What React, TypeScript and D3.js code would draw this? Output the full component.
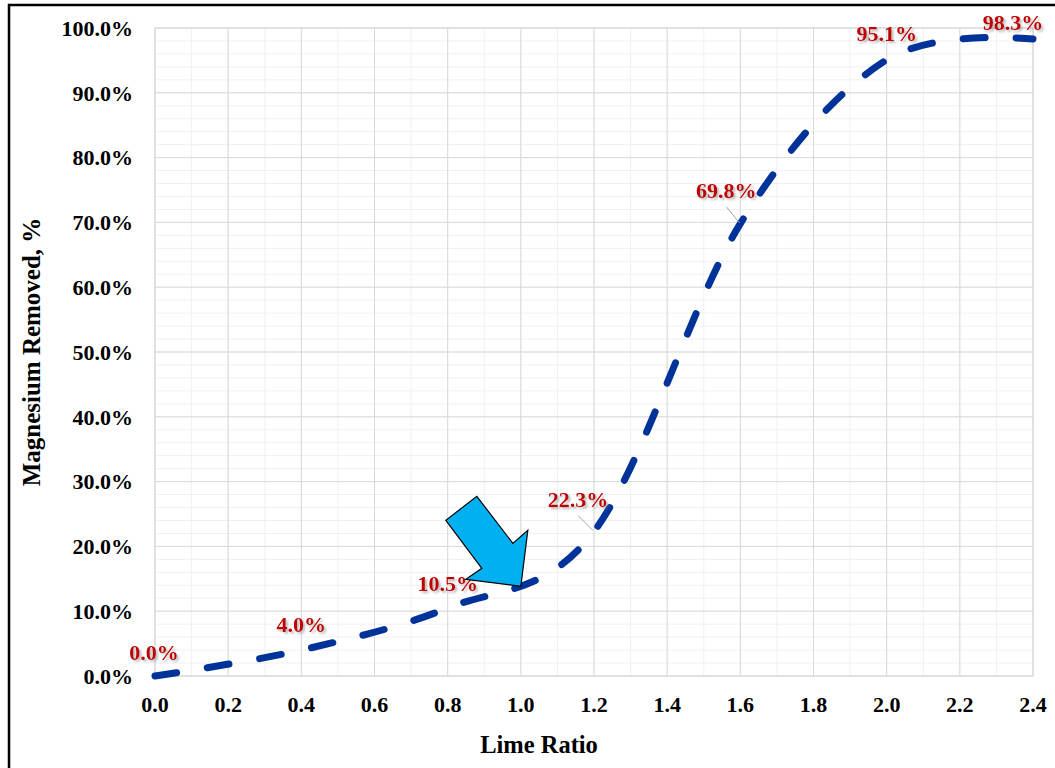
import React from "react";
import * as d3 from "d3";

// Lime ratio vs. magnesium removal
const limeRatio = [0.0, 0.4, 0.8, 1.2, 1.6, 2.0, 2.4];
const mgRemoved = [0.0, 4.0, 10.5, 22.3, 69.8, 95.1, 98.3];
const xTicks = [0, 0.2, 0.4, 0.6, 0.8, 1.0, 1.2, 1.4, 1.6, 1.8, 2.0, 2.2, 2.4];
const yTicks = [0, 10, 20, 30, 40, 50, 60, 70, 80, 90, 100];
const xTitle = "Lime Ratio";
const yTitle = "Magnesium Removed, %";
// label placement (pixel offsets of label centre from its point) and leader lines
const labelOffsets: [number, number][] = [
  [-1, -24], [0, -26], [0, -25], [-16, -32], [-14, -33], [0, -26], [-20, -17],
];
const leaderFor = [false, false, false, true, true, false, false];
// x position the callout arrow points at
const arrowAtX = 1.0;

const W = 1055;
const H = 768;
const M = { left: 155, right: 1033, top: 28, bottom: 676 };
const FONT = "'Liberation Serif', 'Times New Roman', serif";

export default function App() {
  const x = d3.scaleLinear().domain([0, 2.4]).range([M.left, M.right]);
  const y = d3.scaleLinear().domain([0, 100]).range([M.bottom, M.top]);

  const pts: [number, number][] = limeRatio.map((v, i) => [x(v), y(mgRemoved[i])]);
  const line = d3.line().curve(d3.curveCardinal.tension(0));
  const path = line(pts) || "";

  // point on the smoothed curve at arrowAtX (cardinal segment midpoint)
  const seg = limeRatio.findIndex((v, i) => i < limeRatio.length - 1 && v <= arrowAtX && limeRatio[i + 1] >= arrowAtX);
  const p0 = pts[Math.max(seg - 1, 0)];
  const p1 = pts[seg];
  const p2 = pts[seg + 1];
  const p3 = pts[Math.min(seg + 2, pts.length - 1)];
  const c1y = p1[1] + (p2[1] - p0[1]) / 6;
  const c2y = p2[1] - (p3[1] - p1[1]) / 6;
  const tipX = x(arrowAtX);
  const tipY = (p1[1] + 3 * c1y + 3 * c2y + p2[1]) / 8;

  const arrowShape: [number, number][] = [
    [-44, -90], [-8, -43], [7, -56], [0, 0], [-55, -7], [-39, -18], [-75, -66],
  ];
  const arrowPath = "M" + arrowShape.map(([dx, dy]) => `${tipX + dx},${tipY + dy}`).join("L") + "Z";

  const xMinor = d3.range(0, 2.4001, 0.1);
  const yMinor = d3.range(0, 100.001, 2);

  return (
    <svg width={W} height={H} style={{ position: "absolute", left: 0, top: 0, background: "#fff" }}>
      <defs>
        <filter id="lblShadow" x="-20%" y="-30%" width="150%" height="180%">
          <feDropShadow dx="2" dy="2" stdDeviation="1.2" floodColor="#808080" floodOpacity="0.55" />
        </filter>
      </defs>
      <rect x={0} y={0} width={W} height={H} fill="#fff" />
      <rect x={9} y={5} width={W + 20} height={H + 20} fill="none" stroke="#000" strokeWidth={2.5} />

      {/* minor grid */}
      {xMinor.map((v, i) => (
        <line key={"xm" + i} x1={x(v)} x2={x(v)} y1={M.top} y2={M.bottom} stroke="#F0F0F0" strokeWidth={1} />
      ))}
      {yMinor.map((v, i) => (
        <line key={"ym" + i} x1={M.left} x2={M.right} y1={y(v)} y2={y(v)} stroke="#F0F0F0" strokeWidth={1} />
      ))}
      {/* major grid */}
      {xTicks.map((v, i) => (
        <line key={"xg" + i} x1={x(v)} x2={x(v)} y1={M.top} y2={M.bottom} stroke="#D9D9D9" strokeWidth={1} />
      ))}
      {yTicks.map((v, i) => (
        <line key={"yg" + i} x1={M.left} x2={M.right} y1={y(v)} y2={y(v)} stroke="#D9D9D9" strokeWidth={1} />
      ))}
      <rect x={M.left} y={M.top} width={M.right - M.left} height={M.bottom - M.top} fill="none" stroke="#D9D9D9" strokeWidth={1} />

      {/* tick labels */}
      {yTicks.map((v, i) => (
        <text key={"yt" + i} x={133} y={y(v)} dy="0.35em" textAnchor="end" fontFamily={FONT} fontWeight="bold" fontSize={22} fill="#000">
          {v.toFixed(1) + "%"}
        </text>
      ))}
      {xTicks.map((v, i) => (
        <text key={"xt" + i} x={x(v)} y={712} textAnchor="middle" fontFamily={FONT} fontWeight="bold" fontSize={22} fill="#000">
          {v.toFixed(1)}
        </text>
      ))}

      {/* axis titles */}
      <text x={539} y={753} textAnchor="middle" fontFamily={FONT} fontWeight="bold" fontSize={24.5} fill="#000">
        {xTitle}
      </text>
      <text transform={`translate(31,352) rotate(-90)`} dy="0.35em" textAnchor="middle" fontFamily={FONT} fontWeight="bold" fontSize={25} fill="#000">
        {yTitle}
      </text>

      {/* series */}
      <path d={path} fill="none" stroke="#003399" strokeWidth={7} strokeLinecap="round" strokeDasharray="22 31" />

      {/* leader lines */}
      {pts.map(([px, py], i) =>
        leaderFor[i] ? (
          <line key={"ld" + i} x1={px + labelOffsets[i][0]} y1={py + labelOffsets[i][1] + 16} x2={px - 1} y2={py - 1} stroke="#A6A6A6" strokeWidth={1} />
        ) : null
      )}

      {/* data labels */}
      {pts.map(([px, py], i) => (
        <text key={"dl" + i} x={px + labelOffsets[i][0]} y={py + labelOffsets[i][1]} dy="0.35em" textAnchor="middle" fontFamily={FONT} fontWeight="bold" fontSize={22} fill="#C00000" filter="url(#lblShadow)">
          {mgRemoved[i].toFixed(1) + "%"}
        </text>
      ))}

      {/* callout arrow */}
      <path d={arrowPath} fill="#00B0F0" stroke="#000" strokeWidth={1.2} strokeLinejoin="miter" />
    </svg>
  );
}
